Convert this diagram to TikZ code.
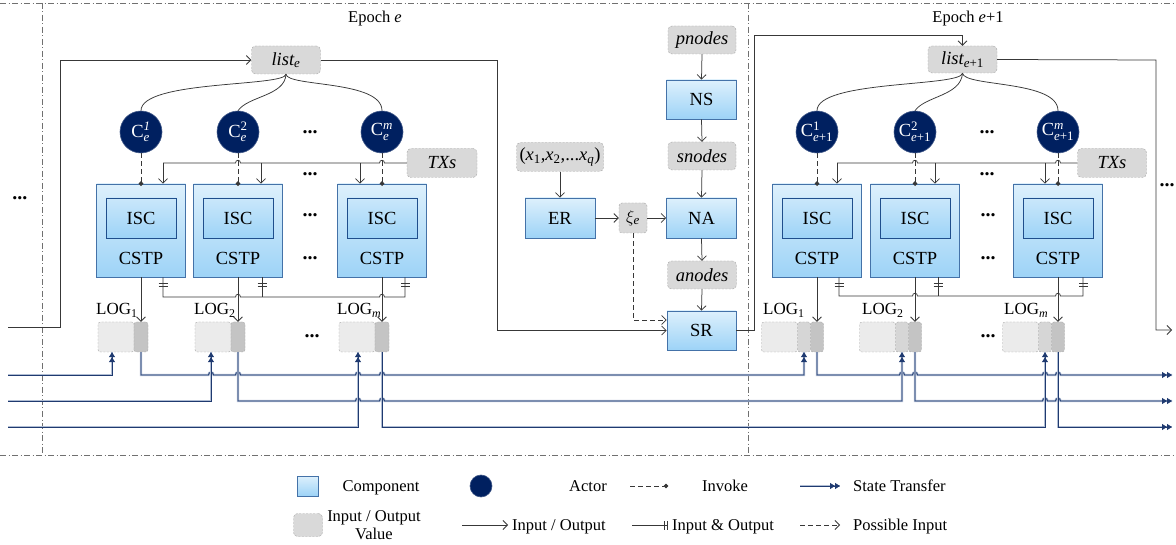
\documentclass[tikz,border=0pt]{standalone}
\usepackage{amsmath}
\usepackage{fontspec}
\setmainfont{Liberation Serif}
\usetikzlibrary{arrows.meta,decorations.markings,calc}
\definecolor{compTop}{HTML}{DDF0FC}
\definecolor{compBot}{HTML}{9DD3F7}
\definecolor{compLine}{HTML}{4472A8}
\definecolor{iscLine}{HTML}{1F4E8C}
\definecolor{actorFill}{HTML}{002060}
\definecolor{ioFill}{HTML}{D9D9D9}
\definecolor{ioLine}{HTML}{A6A6A6}
\definecolor{logA}{HTML}{EBEBEB}
\definecolor{logB}{HTML}{D6D6D6}
\definecolor{logC}{HTML}{C4C4C4}
\definecolor{lineC}{HTML}{383838}
\definecolor{stC}{HTML}{1F3A70}
\definecolor{stH}{HTML}{B0BDD3}
\definecolor{frameC}{HTML}{707070}
\tikzset{
 fs/.style={font=\fontsize{#1}{#1}\selectfont},
 comp/.style={draw=compLine, line width=0.8pt, top color=compTop, bottom color=compBot, minimum width=70pt, minimum height=40pt, inner sep=0pt, font=\fontsize{18.5}{18.5}\selectfont},
 cstp/.style={comp, minimum width=89pt, minimum height=93pt},
 isc/.style={draw=iscLine, line width=0.8pt, top color=compTop!70!compBot, bottom color=compBot, minimum width=70pt, minimum height=40pt, inner sep=0pt, font=\fontsize{18.5}{18.5}\selectfont},
 io/.style={draw=ioLine, dash pattern=on 2pt off 1.5pt, fill=ioFill, rounded corners=4pt, minimum height=28pt, minimum width=68pt, inner sep=0pt, font=\fontsize{18.5}{18.5}\selectfont\itshape},
 actor/.style={circle, fill=actorFill, draw=actorFill!75!white, line width=0.6pt, minimum size=42pt, inner sep=0pt, text=white, font=\fontsize{18.5}{18.5}\selectfont},
 logp/.style={draw=ioLine, dash pattern=on 2pt off 1.5pt, rounded corners=2.5pt, minimum height=30pt, inner sep=0pt},
 conn/.style={draw=lineC, line width=0.75pt},
 arr/.style={conn, -{Straight Barb[length=4.5pt,width=9pt]}},
 inv/.style={conn, dash pattern=on 5pt off 3pt, -{Circle[length=4.5pt]}, shorten >=-2.25pt},
 poss/.style={conn, dash pattern=on 5pt off 3pt, -{Straight Barb[length=4.5pt,width=9pt]}},
 st/.style={draw=stC, line width=0.85pt, preaction={draw=stH, line width=2.3pt, -}},
 stt/.style={st, -{Triangle[length=5pt,width=6pt]Triangle[length=5pt,width=6pt]}},
 hop/.style 2 args={insert path={-- ({#1-2.5},#2) .. controls ({#1-2.5},{#2-3.6}) and ({#1+2.5},{#2-3.6}) .. ({#1+2.5},#2)}},
 iot/.style={postaction={decorate, decoration={markings,
   mark=at position 6pt with {\draw[draw=lineC, line width=0.7pt, solid] (0,-4.5pt) -- (0,4.5pt);},
   mark=at position 9pt with {\draw[draw=lineC, line width=0.7pt, solid] (0,-4.5pt) -- (0,4.5pt);}}}},
 iotb/.style={postaction={decorate, decoration={markings,
   mark=at position 6pt with {\draw[draw=lineC, line width=0.7pt, solid] (0,-4.5pt) -- (0,4.5pt);},
   mark=at position 9pt with {\draw[draw=lineC, line width=0.7pt, solid] (0,-4.5pt) -- (0,4.5pt);},
   mark=at position -6pt with {\draw[draw=lineC, line width=0.7pt, solid] (0,-4.5pt) -- (0,4.5pt);},
   mark=at position -9pt with {\draw[draw=lineC, line width=0.7pt, solid] (0,-4.5pt) -- (0,4.5pt);}}}},
 iote/.style={postaction={decorate, decoration={markings,
   mark=at position -4pt with {\draw[draw=lineC, line width=0.7pt, solid] (0,-4.5pt) -- (0,4.5pt);},
   mark=at position -1pt with {\draw[draw=lineC, line width=0.7pt, solid] (0,-4.5pt) -- (0,4.5pt);}}}},
 dts/.style={font=\fontsize{20}{20}\selectfont\bfseries, inner sep=0pt},
 lbl/.style={font=\fontsize{17}{17}\selectfont, inner sep=0pt},
 lg/.style={font=\fontsize{16.5}{18}\selectfont, inner sep=0pt},
 lgs/.style={lg, text height=11.5pt, text depth=3.5pt},
 frame/.style={draw=frameC, line width=0.6pt, dash pattern=on 6pt off 2.5pt on 1pt off 2.5pt},
}
\begin{document}
\begin{tikzpicture}[x=1pt,y=-1pt]
\useasboundingbox (0,0) rectangle (1176,545);
\fill[white] (0,0) rectangle (1176,545);
% frame
\draw[frame] (0,3) -- (1176,3);
\draw[frame] (0,455) -- (1176,455);
\draw[frame] (42,3) -- (42,455);
\draw[frame] (748,3) -- (748,455);
\node[fs=16.5] (ep1) at (375,19) {Epoch \textit{e}};
\node[fs=16.5] (ep2) at (968,19) {Epoch \textit{e}+1};
% ===== Epoch e =====
\node[io, minimum width=69pt] (le) at (286,60) {list\textsubscript{e}};
\node[actor] (c1) at (141,132) {C$_{\textit{e}}^{\textit{1}}$};
\node[actor] (c2) at (238,132) {C$_{\textit{e}}^{\text{2}}$};
\node[actor] (cm) at (382,132) {C$_{\textit{e}}^{\textit{m}}$};
\node[dts] (dA1) at (310,132) {...};
\node[io, minimum width=70pt, minimum height=29pt] (tx) at (442,163) {TXs};
\node[dts] (dA2) at (310,174) {...};
\node[cstp] (b1) at (141,230.5) {};
\node[cstp] (b2) at (238,230.5) {};
\node[cstp] (bm) at (382,230.5) {};
\node[isc] (i1) at (141,218) {ISC};
\node[isc] (i2) at (238,218) {ISC};
\node[isc] (im) at (382,218) {ISC};
\node[fs=18.5] (t1) at (141,258) {CSTP};
\node[fs=18.5] (t2) at (238,258) {CSTP};
\node[fs=18.5] (tm) at (382,258) {CSTP};
\node[dts] (dA3) at (310,215) {...};
\node[dts] (dA4) at (310,258) {...};
% LOGs epoch e
\node[logp, fill=logA, minimum width=36pt] (lA1) at (116,337) {};
\node[logp, fill=logC, minimum width=14pt] (lA1d) at (141,337) {};
\node[logp, fill=logA, minimum width=36pt] (lA2) at (213,337) {};
\node[logp, fill=logC, minimum width=14pt] (lA2d) at (238,337) {};
\node[logp, fill=logA, minimum width=36pt] (lAm) at (357,337) {};
\node[logp, fill=logC, minimum width=14pt] (lAmd) at (382,337) {};
\node[lbl, anchor=base west] (gA1) at (96,315) {LOG\textsubscript{1}};
\node[lbl, anchor=base west] (gA2) at (194,315) {LOG\textsubscript{2}};
\node[lbl, anchor=base west] (gAm) at (337,315) {LOG\textsubscript{\textit{m}}};
\node[dts] (dA5) at (312,336) {...};
% connectors epoch e
\draw[conn] (le.south) .. controls (285,87) and (141,80) .. (c1.north);
\draw[conn] (le.south) .. controls (285,96) and (248,96) .. (c2.north);
\draw[conn] (le.south) .. controls (287,87) and (382,80) .. (cm.north);
\draw[inv] (c1.south) -- (b1.north);
\draw[inv] (c2.south) -- (b2.north);
\draw[inv] (cm.south) -- (bm.north);
\draw[conn] (163,163) [hop={238}{163}] [hop={382}{163}] -- (tx.west);
\draw[arr] (163,163) -- (163,163 |- b1.north);
\draw[arr] (261,163) -- (261,163 |- b2.north);
\draw[arr] (360,163) -- (360,163 |- bm.north);
\draw[arr] (b1.south) -- (lA1d.north);
\draw[arr] (b2.south) -- (lA2d.north);
\draw[arr] (bm.south) -- (lAmd.north);
\draw[conn, iotb] (163,163 |- b1.south) -- (163,297) [hop={238}{297}] [hop={382}{297}] -- (405,297) -- (405,297 |- bm.south);
\draw[conn, iot] (262,297 |- b2.south) -- (262,297);
% ===== middle =====
\node[io] (pn) at (702,40) {pnodes};
\node[comp, minimum height=39pt] (ns) at (701.5,99.5) {NS};
\node[io] (sn) at (702,156) {snodes};
\node[comp] (na) at (701.5,218) {NA};
\node[io, minimum width=69pt] (an) at (702,275) {anodes};
\node[comp, minimum width=69pt, minimum height=39pt] (sr) at (701.5,330.5) {SR};
\node[comp] (er) at (560,218) {ER};
\node[io, minimum width=87pt, minimum height=29pt] (xs) at (560,157) {\upshape(\textit{x}\textsubscript{1},\textit{x}\textsubscript{2},...\textit{x}\textsubscript{\textit{q}})};
\node[io, minimum width=28pt, minimum height=30pt, rounded corners=3pt] (xi) at (633,218) {$\xi_{\textit{e}}$};
\draw[arr] (pn.south) -- (ns.north);
\draw[arr] (ns.south) -- (sn.north);
\draw[arr] (sn.south) -- (na.north);
\draw[arr] (na.south) -- (an.north);
\draw[arr] (an.south) -- (sr.north);
\draw[arr] (xs.south) -- (er.north);
\draw[arr] (er.east) -- (xi.west);
\draw[arr] (xi.east) -- (na.west);
\draw[poss] (xi.south) |- (sr.west |- 0,320);
\draw[arr] (8,327) -- (60,327) -- (60,60) -- (le.west);
\draw[arr] (le.east) -- (497,60) |- (sr.west);
% ===== Epoch e+1 =====
\node[io, minimum width=69pt, minimum height=27pt] (le1) at (962.5,59.5) {list\textsubscript{e\upshape+1}};
\draw[arr] (sr.east) -- (754,330.5) -- (754,35) -| (le1.north);
\node[actor] (d1) at (817,132) {C$_{\textit{e}\text{+1}}^{\text{1}}$};
\node[actor] (d2) at (915,132) {C$_{\textit{e}\text{+1}}^{\text{2}}$};
\node[actor] (dm) at (1058,132) {C$_{\textit{e}\text{+1}}^{\textit{m}}$};
\node[dts] (dB1) at (987,132) {...};
\node[io, minimum width=69pt, minimum height=29pt] (tx1) at (1112,163) {TXs};
\node[dts] (dB2) at (987,174) {...};
\node[cstp] (e1) at (817,230.5) {};
\node[cstp] (e2) at (915,230.5) {};
\node[cstp] (em) at (1058,230.5) {};
\node[isc] (j1) at (817,218) {ISC};
\node[isc] (j2) at (915,218) {ISC};
\node[isc] (jm) at (1058,218) {ISC};
\node[fs=18.5] (u1) at (817,258) {CSTP};
\node[fs=18.5] (u2) at (915,258) {CSTP};
\node[fs=18.5] (um) at (1058,258) {CSTP};
\node[dts] (dB3) at (988,215) {...};
\node[dts] (dB4) at (988,258) {...};
\node[logp, fill=logA, minimum width=36pt] (lB1) at (779.5,337) {};
\node[logp, fill=logB, minimum width=13pt] (lB1m) at (804,337) {};
\node[logp, fill=logC, minimum width=13pt] (lB1d) at (817,337) {};
\node[logp, fill=logA, minimum width=36pt] (lB2) at (877.5,337) {};
\node[logp, fill=logB, minimum width=13pt] (lB2m) at (902,337) {};
\node[logp, fill=logC, minimum width=13pt] (lB2d) at (915,337) {};
\node[logp, fill=logA, minimum width=36pt] (lBm) at (1020.5,337) {};
\node[logp, fill=logB, minimum width=13pt] (lBmm) at (1045,337) {};
\node[logp, fill=logC, minimum width=13pt] (lBmd) at (1058,337) {};
\node[lbl, anchor=base west] (gB1) at (763,315) {LOG\textsubscript{1}};
\node[lbl, anchor=base west] (gB2) at (862,315) {LOG\textsubscript{2}};
\node[lbl, anchor=base west] (gBm) at (1004,315) {LOG\textsubscript{\textit{m}}};
\node[dts] (dB5) at (988,336) {...};
\draw[conn] (le1.south) .. controls (961,87) and (817,80) .. (d1.north);
\draw[conn] (le1.south) .. controls (961,96) and (925,96) .. (d2.north);
\draw[conn] (le1.south) .. controls (964,87) and (1058,80) .. (dm.north);
\draw[inv] (d1.south) -- (e1.north);
\draw[inv] (d2.south) -- (e2.north);
\draw[inv] (dm.south) -- (em.north);
\draw[conn] (837,163) [hop={915}{163}] [hop={1058}{163}] -- (tx1.west);
\draw[arr] (837,163) -- (837,163 |- e1.north);
\draw[arr] (935,163) -- (935,163 |- e2.north);
\draw[arr] (1045,163) -- (1045,163 |- em.north);
\draw[arr] (e1.south) -- (lB1d.north);
\draw[arr] (e2.south) -- (lB2d.north);
\draw[arr] (em.south) -- (lBmd.north);
\draw[conn, iotb] (839,163 |- e1.south) -- (839,296) [hop={915}{296}] [hop={1058}{296}] -- (1083,296) -- (1083,296 |- em.south);
\draw[conn, iot] (938,296 |- e2.south) -- (938,296);
\draw[arr] (le1.east) -- (1156,60) -- (1156,330) -- (1172,330);
\node[dts] (dL) at (20,198) {...};
\node[dts] (dR) at (1167,185) {...};
% ===== state transfer =====
\draw[stt] (8,375) -- (112,375) -- (112,375 |- lA1.south);
\draw[stt] (lA1d.south) -- (141,375) [hop={211}{375}] [hop={238}{375}] [hop={358}{375}] [hop={382}{375}] -- (804,375) -- (804,375 |- lB1m.south);
\draw[stt] (lB1d.south) -- (817,375) [hop={902}{375}] [hop={915}{375}] [hop={1045}{375}] [hop={1058}{375}] -- (1172,375);
\draw[stt] (8,401) -- (211,401) -- (211,401 |- lA2.south);
\draw[stt] (lA2d.south) -- (238,401) [hop={358}{401}] [hop={382}{401}] -- (902,401) -- (902,401 |- lB2m.south);
\draw[stt] (lB2d.south) -- (915,401) [hop={1045}{401}] [hop={1058}{401}] -- (1172,401);
\draw[stt] (8,427) -- (358,427) -- (358,427 |- lAm.south);
\draw[stt] (lAmd.south) -- (382,427) -- (1045,427) -- (1045,427 |- lBmm.south);
\draw[stt] (lBmd.south) -- (1058,427) -- (1172,427);
% ===== legend =====
\node[comp, minimum width=21pt, minimum height=20pt] (kc) at (308,486) {};
\node[lgs] (kct) at (381,487) {Component};
\node[actor, minimum size=22pt] (ka) at (481,486) {};
\node[lgs] (kat) at (588,487) {Actor};
\coordinate (ki1) at (630,486); \coordinate (ki2) at (666,486);
\draw[inv] (ki1) -- (ki2);
\node[lgs] (kit) at (725,487) {Invoke};
\coordinate (ks1) at (800,486); \coordinate (ks2) at (840,486);
\draw[stt] (ks1) -- (ks2);
\node[lgs, anchor=west] (kst) at (853,487) {State Transfer};
\node[io, minimum width=29pt, minimum height=23pt] (kv) at (308,525) {};
\node[lg, align=center] (kvt) at (374,525) {Input / Output\\Value};
\coordinate (kp1) at (462,525); \coordinate (kp2) at (508,525);
\draw[arr] (kp1) -- (kp2);
\node[lgs, anchor=west] (kpt) at (512,526) {Input / Output};
\coordinate (kb1) at (632,525); \coordinate (kb2) at (668,525);
\draw[conn, iote] (kb1) -- (kb2);
\node[lgs, anchor=west] (kbt) at (672,526) {Input \& Output};
\coordinate (kd1) at (800,525); \coordinate (kd2) at (840,525);
\draw[poss] (kd1) -- (kd2);
\node[lgs, anchor=west] (kdt) at (853,526) {Possible Input};
\end{tikzpicture}
\end{document}
